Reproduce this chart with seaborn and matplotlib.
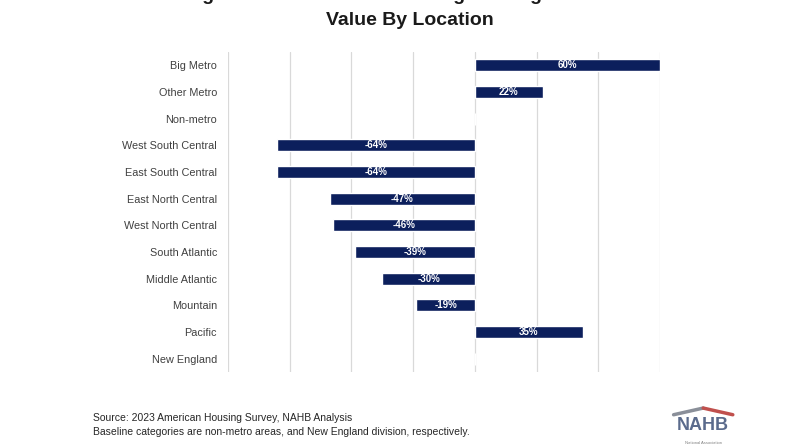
import pandas as pd
import numpy as np
import matplotlib.pyplot as plt
import seaborn as sns

# data
locations = ["Big Metro", "Other Metro", "Non-metro", "West South Central",
             "East South Central", "East North Central", "West North Central",
             "South Atlantic", "Middle Atlantic", "Mountain", "Pacific", "New England"]
pct_change = [60, 22, 0, -64, -64, -47, -46, -39, -30, -19, 35, 0]

df = pd.DataFrame({"location": locations, "pct": pct_change})

sns.set_style("white")
plt.rcParams['font.family'] = ['Liberation Sans', 'DejaVu Sans']

fig = plt.figure(figsize=(8, 4.45), dpi=100)
ax = fig.add_axes([0.285, 0.164, 0.54, 0.719])

sns.barplot(data=df, x="pct", y="location", orient="h", color="#0c1f5c",
            width=0.45, saturation=1, ax=ax)

ax.set_xlim(-80, 60)
ax.set_ylim(11.5, -0.5)
ax.set_xticks(np.arange(-80, 61, 20))
ax.set_xticklabels([])
ax.grid(axis="x", color="#d9d9d9", lw=0.9)
ax.set_axisbelow(True)
for s in ax.spines.values():
    s.set_visible(False)
ax.tick_params(axis="both", length=0)
ax.tick_params(axis="y", pad=8, labelsize=7.8, labelcolor="#404040")
ax.set_xlabel("")
ax.set_ylabel("")

# bar labels (skip baseline categories)
labels = ["" if v == 0 else f"{v}%" for v in pct_change]
ax.bar_label(ax.containers[0], labels=labels, label_type="center",
             color="white", fontsize=7, fontweight="bold")

# title (first line cut at top edge as in the source)
fig.text(0.512, 1.01, "Figure 2: Estimated Percentage Change in Home",
         ha="center", va="center", fontsize=14, fontweight="bold", color="#1a1a1a")
fig.text(0.512, 0.953, "Value By Location", ha="center", va="center",
         fontsize=14, fontweight="bold", color="#1a1a1a")

# footer
fig.text(0.116, 0.06, "Source: 2023 American Housing Survey, NAHB Analysis",
         fontsize=7.5, color="#262626", va="center")
fig.text(0.116, 0.029, "Baseline categories are non-metro areas, and New England division, respectively.",
         fontsize=7.5, color="#262626", va="center")

# logo
fig.text(0.879, 0.043, "NAHB", ha="center", va="center", fontsize=13,
         fontweight="bold", color="#5b6b8c")
fig.lines.append(plt.Line2D([0.842, 0.879], [0.068, 0.083],
                            transform=fig.transFigure, color="#8a8f99", lw=2.5))
fig.lines.append(plt.Line2D([0.879, 0.916], [0.083, 0.068],
                            transform=fig.transFigure, color="#c0504d", lw=2.5))
fig.text(0.879, 0.005, "National Association", ha="center", va="center",
         fontsize=3, color="#808080")

fig.savefig("out.png", dpi=100)
